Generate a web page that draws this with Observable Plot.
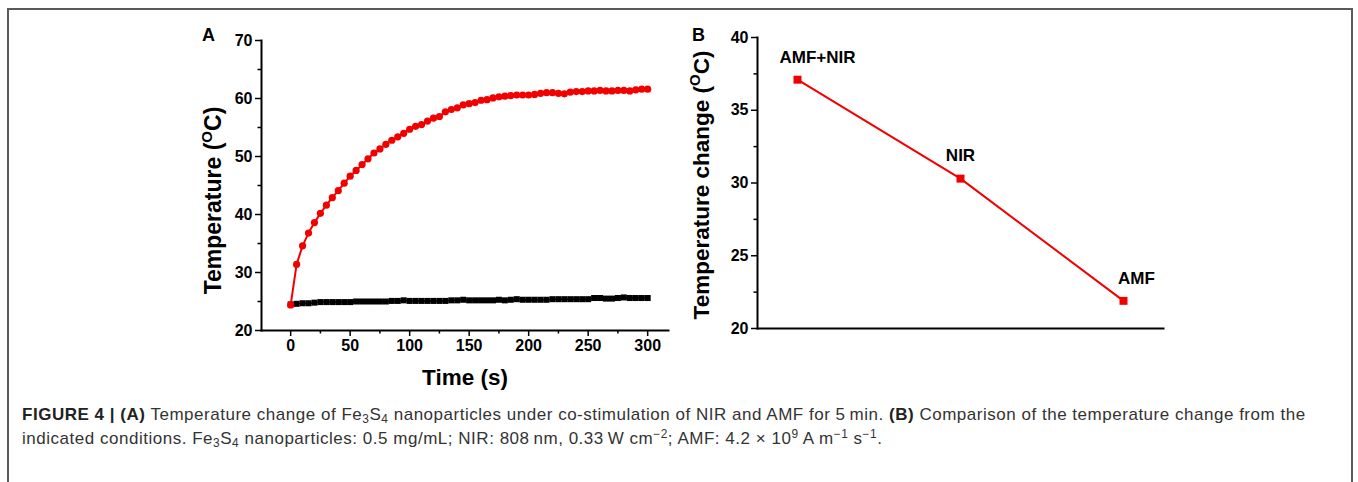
<!DOCTYPE html>
<html><head><meta charset="utf-8">
<script src="https://cdn.jsdelivr.net/npm/d3@7"></script>
<script src="https://cdn.jsdelivr.net/npm/@observablehq/plot@0.6"></script>
<style>
html,body{margin:0;padding:0;background:#fff;}
#wrap{position:relative;width:1358px;height:482px;overflow:hidden;font-family:"Liberation Sans",Arial,sans-serif;}
#frame{position:absolute;left:7px;top:8px;width:1346px;height:520px;border:2px solid #5a5a5a;box-sizing:border-box;}
.panel{position:absolute;}
.letter{position:absolute;font:bold 18px "Liberation Sans",Arial,sans-serif;color:#000;}
#caption{position:absolute;left:22px;top:403px;width:1330px;font-size:17px;letter-spacing:0.52px;line-height:24px;color:#333;white-space:nowrap;}
#caption b{color:#222;}
#caption sub{font-size:0.7em;vertical-align:-0.25em;line-height:0;}
#caption sup{font-size:0.7em;vertical-align:0.5em;line-height:0;}
</style></head>
<body>
<div id="wrap">
  <div id="frame"></div>
  <div class="letter" style="left:202px;top:25px;">A</div>
  <div class="letter" style="left:692px;top:25px;">B</div>
  <div id="panelA" class="panel" style="left:190px;top:20px;"></div>
  <div id="panelB" class="panel" style="left:680px;top:20px;"></div>
  <div id="caption"><b>FIGURE 4 | (A)</b> Temperature change of Fe<sub>3</sub>S<sub>4</sub> nanoparticles under co-stimulation of NIR and AMF for 5&#8201;min. <b>(B)</b> Comparison of the temperature change from the<br>indicated conditions. Fe<sub>3</sub>S<sub>4</sub> nanoparticles: 0.5 mg/mL; NIR: 808&#8201;nm, 0.33&#8201;W cm<sup>&#8722;2</sup>; AMF: 4.2 &#215; 10<sup>9</sup> A m<sup>&#8722;1</sup> s<sup>&#8722;1</sup>.</div>
</div>
<script>
// ---------- Data ----------
const timeS = [0,5,10,15,20,25,30,35,40,45,50,55,60,65,70,75,80,85,90,95,100,105,110,115,120,125,130,135,140,145,150,155,160,165,170,175,180,185,190,195,200,205,210,215,220,225,230,235,240,245,250,255,260,265,270,275,280,285,290,295,300];
const tempNirAmf = [24.4,31.4,34.6,36.8,38.6,40.2,41.6,42.9,44.1,45.4,46.6,47.6,48.6,49.6,50.6,51.3,52.1,52.8,53.4,54.0,54.7,55.2,55.5,56.1,56.6,56.9,57.7,58.1,58.4,58.9,59.1,59.3,59.7,59.8,60.1,60.3,60.4,60.5,60.6,60.6,60.6,60.7,60.9,61.0,61.0,60.9,60.8,61.1,61.2,61.2,61.3,61.3,61.4,61.3,61.3,61.4,61.4,61.3,61.5,61.6,61.6];
const tempControl = [24.5,24.6,24.7,24.7,24.8,24.9,24.9,24.9,24.9,24.9,24.9,25.0,25.0,25.0,25.0,25.0,25.0,25.1,25.1,25.2,25.1,25.1,25.1,25.1,25.1,25.1,25.1,25.2,25.2,25.3,25.2,25.2,25.2,25.2,25.2,25.3,25.2,25.3,25.4,25.3,25.3,25.3,25.3,25.3,25.4,25.4,25.4,25.4,25.4,25.4,25.4,25.6,25.6,25.5,25.5,25.6,25.7,25.6,25.6,25.6,25.6];
const xTicksA = [0,50,100,150,200,250,300];
const xMinorA = [25,75,125,175,225,275];
const yTicksA = [20,30,40,50,60,70];
const yMinorA = [25,35,45,55,65];

const conditions = ["AMF+NIR","NIR","AMF"];
const tempChange = [37.1,30.3,21.9];
const yTicksB = [20,25,30,35,40];
const yMinorB = [22.5,27.5,32.5,37.5];

const font = "'Liberation Sans', Arial, sans-serif";
const red = "#f20000";

const seriesA = timeS.map((t,i)=>({t, hot: tempNirAmf[i], ctrl: tempControl[i]}));
const dataB = conditions.map((c,i)=>({c, v: tempChange[i]}));

function superscriptO(svg, size) {
  d3.select(svg).selectAll("text").filter(function(){ return this.textContent.includes("(OC)"); })
    .each(function(){
      const s = this.textContent;
      const pre = s.slice(0, s.indexOf("(OC)") + 1);
      const el = d3.select(this);
      el.text(null);
      el.append("tspan").text(pre);
      el.append("tspan").text("O").attr("font-size", Math.round(size*0.66)).attr("dy", -Math.round(size*0.38));
      el.append("tspan").text("C)").attr("dy", Math.round(size*0.38));
    });
}

// ---------- Panel A ----------
const plotA = Plot.plot({
  width: 490, height: 380,
  marginLeft: 71, marginRight: 12, marginTop: 20, marginBottom: 70,
  x: {domain: [-24.5, 317.5]},
  y: {domain: [20, 70]},
  style: {fontFamily: font, fontWeight: "bold", color: "#000", background: "transparent", overflow: "visible"},
  marks: [
    Plot.axisX({ticks: xTicksA, tickSize: 6, tickPadding: 3, fontSize: 16, label: null, strokeWidth: 1.5}),
    Plot.axisX({ticks: xMinorA, tickSize: 3.5, text: null, label: null, strokeWidth: 1.5}),
    Plot.axisY({ticks: yTicksA, tickSize: 6, tickPadding: 3, fontSize: 16, label: null, strokeWidth: 1.5}),
    Plot.axisY({ticks: yMinorA, tickSize: 3.5, text: null, label: null, strokeWidth: 1.5}),
    Plot.frame({anchor: "bottom", stroke: "#000", strokeWidth: 2}),
    Plot.frame({anchor: "left", stroke: "#000", strokeWidth: 2}),
    Plot.line(seriesA, {x: "t", y: "ctrl", stroke: "#000", strokeWidth: 1.5}),
    Plot.dot(seriesA, {x: "t", y: "ctrl", symbol: "square", r: 3.4, fill: "#000", stroke: "none"}),
    Plot.line(seriesA, {x: "t", y: "hot", stroke: red, strokeWidth: 2}),
    Plot.dot(seriesA, {x: "t", y: "hot", symbol: "circle", r: 3.6, fill: red, stroke: "none"}),
    Plot.text(["Temperature (OC)"], {frameAnchor: "left", textAnchor: "middle", dx: -48, dy: 15, rotate: -90, fontSize: 23, fontWeight: "bold"}),
    Plot.text(["Time (s)"], {frameAnchor: "bottom", dy: 54, fontSize: 22.5, fontWeight: "bold"})
  ]
});
superscriptO(plotA, 23);
document.getElementById("panelA").appendChild(plotA);

// ---------- Panel B ----------
const plotB = Plot.plot({
  width: 503, height: 340,
  marginLeft: 77, marginRight: 20, marginTop: 17, marginBottom: 32,
  x: {type: "point", domain: conditions, padding: 0.245, axis: null},
  y: {domain: [20, 40]},
  style: {fontFamily: font, fontWeight: "bold", color: "#000", background: "transparent", overflow: "visible"},
  marks: [
    Plot.axisY({ticks: yTicksB, tickSize: 6, tickPadding: 3, fontSize: 16, label: null, strokeWidth: 1.5}),
    Plot.axisY({ticks: yMinorB, tickSize: 3.5, text: null, label: null, strokeWidth: 1.5}),
    Plot.frame({anchor: "bottom", stroke: "#000", strokeWidth: 2}),
    Plot.frame({anchor: "left", stroke: "#000", strokeWidth: 2}),
    Plot.line(dataB, {x: "c", y: "v", stroke: red, strokeWidth: 2}),
    Plot.dot(dataB, {x: "c", y: "v", symbol: "square", r: 4.5, fill: red, stroke: "none"}),
    Plot.text(dataB.filter(d => d.c === "AMF+NIR"), {x: "c", y: "v", text: "c", dx: 20, dy: -22, fontSize: 17, fontWeight: "bold"}),
    Plot.text(dataB.filter(d => d.c === "NIR"), {x: "c", y: "v", text: "c", dx: 0, dy: -23, fontSize: 17, fontWeight: "bold"}),
    Plot.text(dataB.filter(d => d.c === "AMF"), {x: "c", y: "v", text: "c", dx: 13, dy: -22, fontSize: 17, fontWeight: "bold"}),
    Plot.text(["Temperature change (OC)"], {frameAnchor: "left", textAnchor: "middle", dx: -56, dy: 2, rotate: -90, fontSize: 22.5, fontWeight: "bold"})
  ]
});
superscriptO(plotB, 22.5);
document.getElementById("panelB").appendChild(plotB);
</script>
</body></html>
